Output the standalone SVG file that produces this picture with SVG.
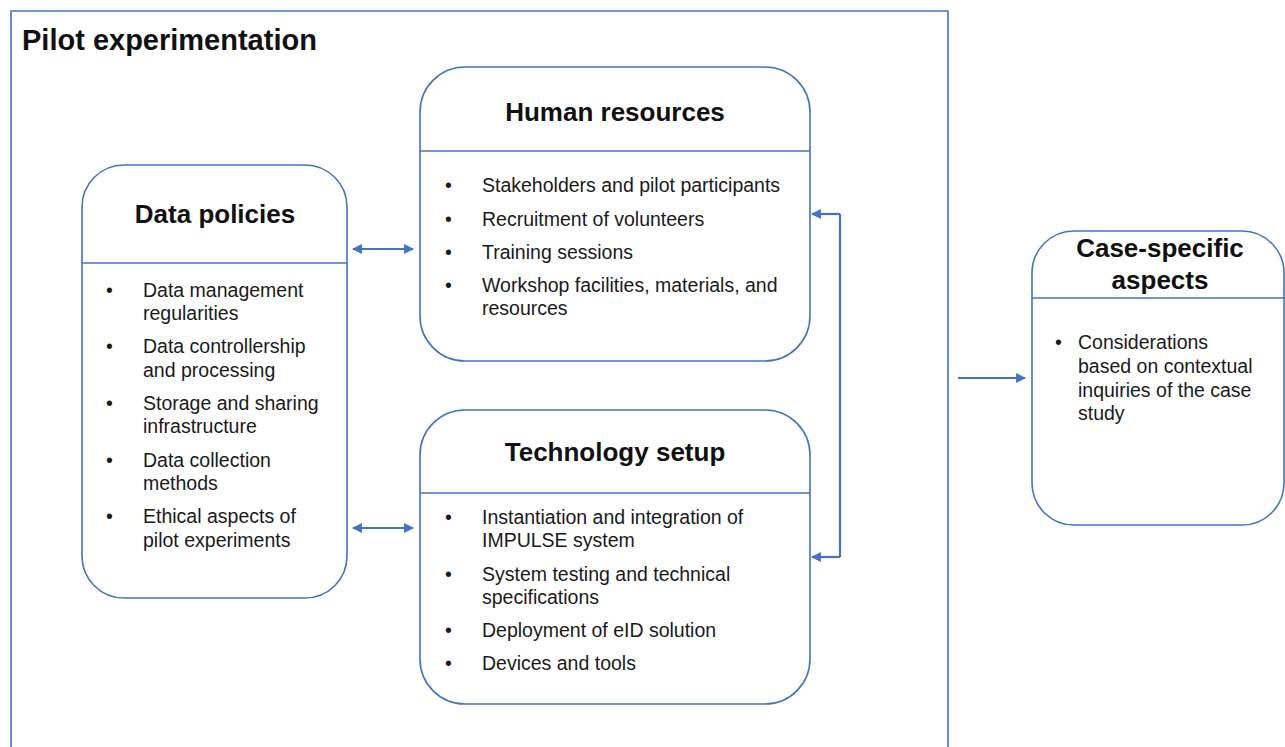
<svg xmlns="http://www.w3.org/2000/svg" width="1285" height="747" viewBox="0 0 1285 747">
  <style>
    .frame { fill: none; stroke: #4472C4; stroke-width: 1.6; }
    .box { fill: #ffffff; stroke: #4472C4; stroke-width: 1.6; }
    .div { stroke: #4472C4; stroke-width: 1.6; }
    .conn { fill: none; stroke: #4472C4; stroke-width: 2.2; }
    .main { font-family: "Liberation Sans", Arial, sans-serif; font-weight: bold; font-size: 29px; fill: #111; }
    .title { font-family: "Liberation Sans", Arial, sans-serif; font-weight: bold; font-size: 26px; fill: #111; text-anchor: middle; }
    .item { font-family: "Liberation Sans", Arial, sans-serif; font-size: 19.5px; fill: #1a1a1a; }
  </style>
  <defs>
    <marker id="head" viewBox="0 0 10 10" refX="9" refY="5" markerWidth="4.5" markerHeight="4.5" orient="auto-start-reverse" markerUnits="strokeWidth">
      <path d="M0,0 L10,5 L0,10 z" fill="#4472C4"/>
    </marker>
  </defs>

  <rect width="1285" height="747" fill="#ffffff"/>

  <!-- outer container -->
  <g id="pilot">
    <path class="frame" d="M11,750 L11,11 L948,11 L948,750"/>
    <text class="main" x="22" y="50">Pilot experimentation</text>
  </g>

  <!-- Data policies -->
  <g id="data-policies">
    <rect class="box" x="82" y="165" width="265" height="433" rx="42" ry="42"/>
    <line class="div" x1="82" y1="263" x2="347" y2="263"/>
    <text class="title" x="215" y="223">Data policies</text>
    <g class="item">
      <text x="106" y="297">•</text><text x="143" y="297">Data management</text>
      <text x="143" y="320">regularities</text>
      <text x="106" y="353">•</text><text x="143" y="353">Data controllership</text>
      <text x="143" y="377">and processing</text>
      <text x="106" y="410">•</text><text x="143" y="410">Storage and sharing</text>
      <text x="143" y="433">infrastructure</text>
      <text x="106" y="467">•</text><text x="143" y="467">Data collection</text>
      <text x="143" y="490">methods</text>
      <text x="106" y="523">•</text><text x="143" y="523">Ethical aspects of</text>
      <text x="143" y="547">pilot experiments</text>
    </g>
  </g>

  <!-- Human resources -->
  <g id="human-resources">
    <rect class="box" x="420" y="67" width="390" height="294" rx="45" ry="45"/>
    <line class="div" x1="420" y1="151" x2="810" y2="151"/>
    <text class="title" x="615" y="121">Human resources</text>
    <g class="item">
      <text x="445" y="192">•</text><text x="482" y="192">Stakeholders and pilot participants</text>
      <text x="445" y="226">•</text><text x="482" y="226">Recruitment of volunteers</text>
      <text x="445" y="259">•</text><text x="482" y="259">Training sessions</text>
      <text x="445" y="292">•</text><text x="482" y="292">Workshop facilities, materials, and</text>
      <text x="482" y="315">resources</text>
    </g>
  </g>

  <!-- Technology setup -->
  <g id="technology-setup">
    <rect class="box" x="420" y="410" width="390" height="294" rx="45" ry="45"/>
    <line class="div" x1="420" y1="493" x2="810" y2="493"/>
    <text class="title" x="615" y="461">Technology setup</text>
    <g class="item">
      <text x="445" y="524">•</text><text x="482" y="524">Instantiation and integration of</text>
      <text x="482" y="547">IMPULSE system</text>
      <text x="445" y="581">•</text><text x="482" y="581">System testing and technical</text>
      <text x="482" y="604">specifications</text>
      <text x="445" y="637">•</text><text x="482" y="637">Deployment of eID solution</text>
      <text x="445" y="670">•</text><text x="482" y="670">Devices and tools</text>
    </g>
  </g>

  <!-- Case-specific aspects -->
  <g id="case-specific">
    <rect class="box" x="1032" y="231" width="252" height="294" rx="42" ry="42"/>
    <line class="div" x1="1032" y1="298" x2="1285" y2="298"/>
    <text class="title" x="1160" y="257">Case-specific</text>
    <text class="title" x="1160" y="289">aspects</text>
    <g class="item">
      <text x="1055" y="349">•</text><text x="1078" y="349">Considerations</text>
      <text x="1078" y="373">based on contextual</text>
      <text x="1078" y="397">inquiries of the case</text>
      <text x="1078" y="420">study</text>
    </g>
  </g>

  <!-- connectors -->
  <g id="connectors">
    <line class="conn" x1="353" y1="249" x2="413" y2="249" marker-start="url(#head)" marker-end="url(#head)"/>
    <line class="conn" x1="353" y1="528" x2="413" y2="528" marker-start="url(#head)" marker-end="url(#head)"/>
    <path class="conn" d="M840,214 L840,557" />
    <line class="conn" x1="840" y1="214" x2="812" y2="214" marker-end="url(#head)"/>
    <line class="conn" x1="840" y1="557" x2="812" y2="557" marker-end="url(#head)"/>
    <line class="conn" x1="958" y1="378" x2="1025" y2="378" marker-end="url(#head)"/>
  </g>
</svg>
